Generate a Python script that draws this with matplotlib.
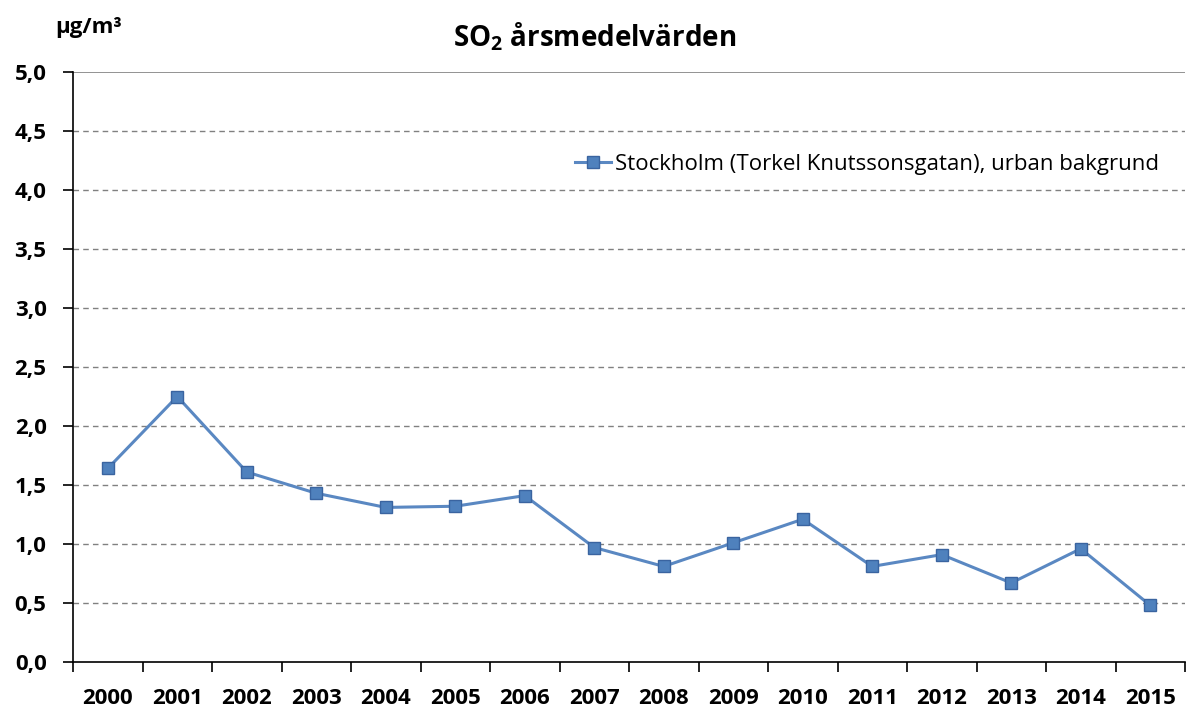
import numpy as np
import matplotlib
matplotlib.use("Agg")
import matplotlib.pyplot as plt

# --- Data ---
years = [str(y) for y in range(2000, 2016)]
so2_values = [1.64, 2.25, 1.61, 1.43, 1.31, 1.32, 1.41, 0.97,
              0.81, 1.01, 1.21, 0.81, 0.91, 0.67, 0.96, 0.48]
y_ticks = [0.0, 0.5, 1.0, 1.5, 2.0, 2.5, 3.0, 3.5, 4.0, 4.5, 5.0]
series_label = "Stockholm (Torkel Knutssonsgatan), urban bakgrund"

plt.rcParams["font.family"] = ["Open Sans", "DejaVu Sans"]
plt.rcParams["mathtext.fontset"] = "custom"
plt.rcParams["mathtext.bf"] = "Open Sans:bold"
plt.rcParams["mathtext.rm"] = "Open Sans:bold"

fig = plt.figure(figsize=(11.89, 7.08), dpi=100)
ax = fig.add_axes([73 / 1189, 46 / 708, 1112 / 1189, 590 / 708])

x = np.arange(len(years))
ax.plot(x, so2_values, color="#5A88C2", lw=2.2, marker="s", markersize=9,
        markerfacecolor="#4F81BD", markeredgecolor="#3A64A0", markeredgewidth=1,
        label=series_label, zorder=3)

ax.set_xlim(-0.5, len(years) - 0.5)
ax.set_ylim(0, 5)

# y axis
ax.set_yticks(y_ticks)
ax.set_yticklabels([f"{v:.1f}".replace(".", ",") for v in y_ticks],
                   fontsize=16, fontweight="bold")
for v in y_ticks[1:-1]:
    ax.axhline(v, color="#808080", lw=1, ls=(0, (4, 3)), zorder=1)
ax.axhline(5, color="#808080", lw=1.2, zorder=1)

# x axis: labels centred, ticks at boundaries
ax.set_xticks(x)
ax.set_xticklabels(years, fontsize=16, fontweight="bold")
ax.set_xticks(np.arange(-0.5, len(years), 1.0), minor=True)
ax.tick_params(axis="x", which="major", length=0, pad=19)
ax.tick_params(axis="x", which="minor", length=7.5, width=1.2, direction="out")
ax.tick_params(axis="y", length=7, width=1.2, direction="out", pad=12)

for side in ["top", "right"]:
    ax.spines[side].set_visible(False)
ax.spines["left"].set_linewidth(1.2)
ax.spines["bottom"].set_linewidth(1.2)

ax.legend(loc="upper right", bbox_to_anchor=(0.995, 0.895), frameon=False,
          fontsize=16, handlelength=1.6, handletextpad=0.2)

fig.text(595 / 1189, 1 - 37 / 708, r"SO$_\mathbf{2}$ årsmedelvärden",
         ha="center", va="center", fontsize=20, fontweight="bold")
fig.text(89 / 1189, 1 - 28 / 708, "µg/m³", ha="center", va="center",
         fontsize=16, fontweight="bold")

fig.savefig("out.png", dpi=100)
